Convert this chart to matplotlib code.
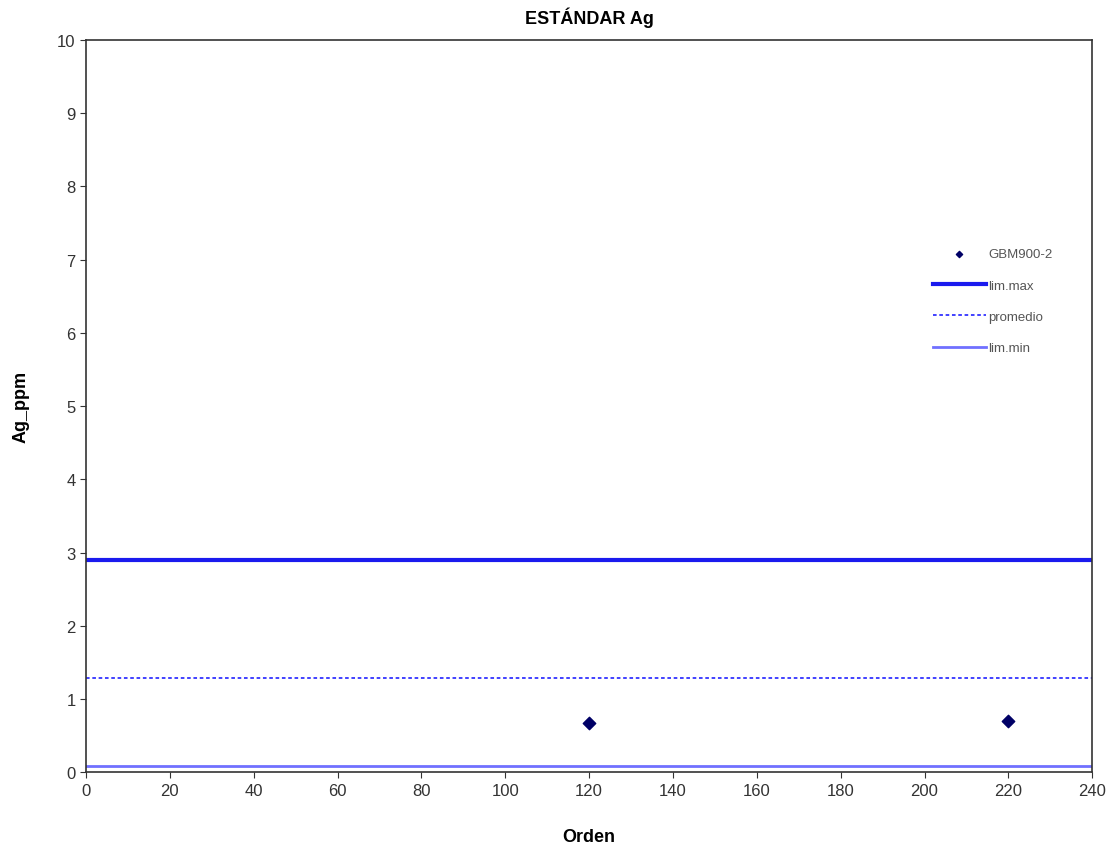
import numpy as np
import matplotlib.pyplot as plt

plt.rcParams['font.family'] = ['Liberation Sans', 'DejaVu Sans']

orden = [120, 220]
ag_ppm = [0.67, 0.70]
lim_max = 2.9
promedio = 1.29
lim_min = 0.08

fig = plt.figure(figsize=(11.1, 8.45), dpi=100)
ax = fig.add_axes([0.0775, 0.085, 0.9065, 0.8665])

ax.scatter(orden, ag_ppm, color='#000066', s=40, marker='D', label='GBM900-2', zorder=3)
ax.axhline(lim_max, color='#1a1aee', lw=3, label='lim.max')
ax.axhline(promedio, color='#3333ff', lw=1.3, ls=(0, (2, 1.5)), label='promedio')
ax.axhline(lim_min, color='#7070ff', lw=2, label='lim.min')

ax.set_xlim(0, 240)
ax.set_ylim(0, 10)
ax.set_xticks(np.arange(0, 241, 20))
ax.set_yticks(np.arange(0, 11, 1))
ax.tick_params(labelsize=12, colors='#333333', length=4, direction='out')
for s in ax.spines.values():
    s.set_color('#333333')
    s.set_linewidth(1.2)

ax.set_title('ESTÁNDAR Ag', fontsize=13, fontweight='bold', pad=12)
ax.set_xlabel('Orden', fontsize=13, fontweight='bold', labelpad=22)
ax.set_ylabel('Ag_ppm', fontsize=13, fontweight='bold', labelpad=20)

ax.legend(loc='upper left', bbox_to_anchor=(0.83, 0.732), frameon=False,
          fontsize=9.5, labelcolor='#555555', handlelength=4, handletextpad=0.2,
          labelspacing=1.45, markerscale=0.5)

fig.savefig('out.png', dpi=100)
